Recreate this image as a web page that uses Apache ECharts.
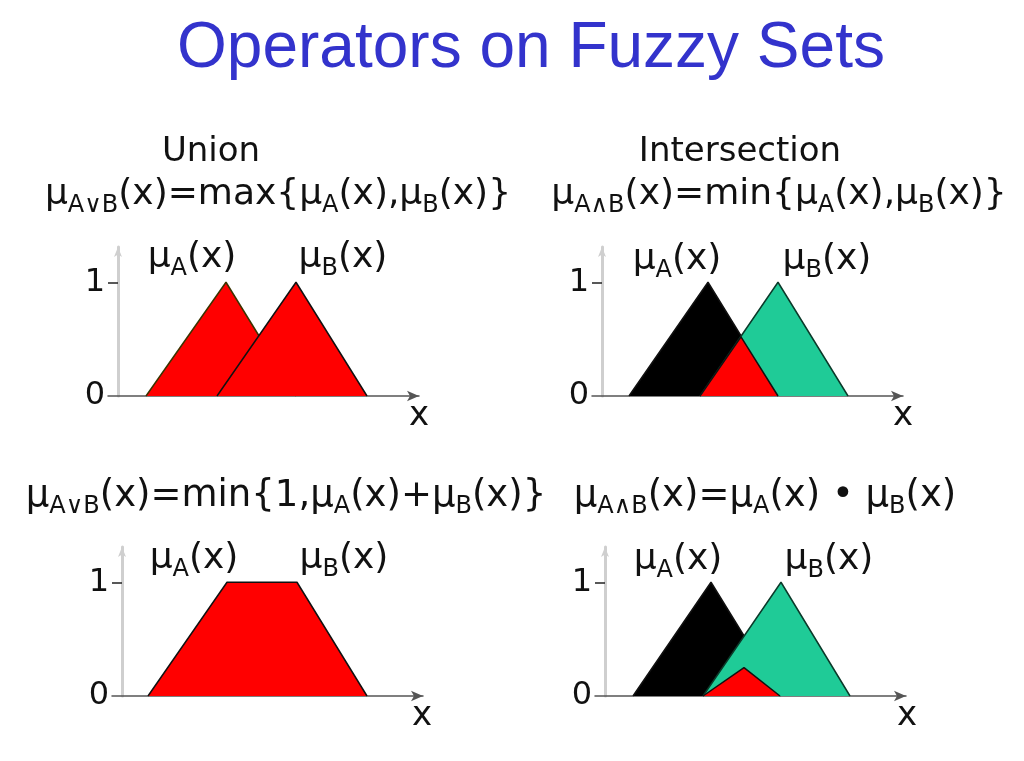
<!DOCTYPE html>
<html>
<head>
<meta charset="utf-8">
<script src="https://cdn.jsdelivr.net/npm/echarts/dist/echarts.min.js"></script>
<style>
html, body { margin: 0; padding: 0; background: #fff; }
#main { width: 1024px; height: 761px; }
</style>
</head>
<body>
<div id="main"></div>
<script>
// membership functions (x in axis units, y = degree)
var unionA = [[2.8, 0], [10.8, 1], [17.8, 0]];
var unionB = [[9.9, 0], [17.8, 1], [24.9, 0]];

var interA = [[2.7, 0], [10.6, 1], [17.6, 0]];
var interB = [[9.8, 0], [17.6, 1], [24.6, 0]];
var interMin = [[9.8, 0], [13.9, 0.52], [17.6, 0]];

var boundedSum = [[2.6, 0], [10.5, 1], [17.5, 1], [24.5, 0]];

var prodA = [[2.8, 0], [10.6, 1], [17.6, 0]];
var prodB = [[9.8, 0], [17.6, 1], [24.5, 0]];
var prodAB = [[9.8, 0], [13.9, 0.25], [17.5, 0]];

var yLabels = [0, 1];
var yTicks = [1];

var FONT = "'DejaVu Sans', sans-serif";
var RED = '#ff0000';
var GREEN = '#1fcb97';
var BLACK = '#000000';

var myChart = echarts.init(document.getElementById('main'));

// one small grid per panel, y axis sits on x = 0
var grids = [
    { left: 108, top: 247, width: 311, height: 149 },
    { left: 592, top: 247, width: 311, height: 149 },
    { left: 112, top: 547, width: 311, height: 149 },
    { left: 595, top: 547, width: 311, height: 149 }
];

var xAxes = [], yAxes = [];
for (var i = 0; i < 4; i++) {
    xAxes.push({
        gridIndex: i,
        type: 'value',
        min: -1,
        max: 30.1,
        axisLine: {
            show: true,
            symbol: ['none', 'arrow'],
            symbolSize: [8, 12],
            lineStyle: { color: '#555', width: 1.5 }
        },
        axisTick: { show: false },
        axisLabel: { show: false },
        splitLine: { show: false }
    });
    yAxes.push({
        gridIndex: i,
        type: 'value',
        min: 0,
        max: 1.31,
        interval: 1,
        axisLine: {
            show: true,
            onZero: true,
            symbol: ['none', 'arrow'],
            symbolSize: [6, 10],
            lineStyle: { color: '#cfcfcf', width: 3 }
        },
        axisTick: {
            show: true,
            customValues: yTicks,
            length: 10,
            lineStyle: { color: '#222', width: 1.5 }
        },
        axisLabel: {
            show: true,
            customValues: yLabels,
            margin: 3,
            fontSize: 32,
            fontFamily: FONT,
            color: '#111'
        },
        splitLine: { show: false }
    });
}

var zOrder = 2;
function shape(idx, data, fill, edge) {
    zOrder++;
    return {
        type: 'line',
        xAxisIndex: idx,
        yAxisIndex: idx,
        z: zOrder,
        data: data,
        symbol: 'none',
        silent: true,
        lineStyle: { color: edge || '#111', width: 1.5 },
        itemStyle: { color: fill },
        areaStyle: { color: fill, opacity: 1 }
    };
}

var series = [
    shape(0, unionA, RED, '#3b3300'),
    shape(0, unionB, RED),
    shape(1, interA, BLACK),
    shape(1, interB, GREEN, '#0b3a2a'),
    shape(1, interMin, RED),
    shape(2, boundedSum, RED),
    shape(3, prodA, BLACK),
    shape(3, prodB, GREEN, '#0b3a2a'),
    shape(3, prodAB, RED)
];

// text with subscripts written as {s|...}
function txt(text, x, y, size, sub, color, family) {
    return {
        type: 'text',
        x: x,
        y: y,
        z: 100,
        silent: true,
        style: {
            text: text,
            fontSize: size,
            fontFamily: family || FONT,
            lineHeight: Math.round(size * 1.25),
            fill: color || '#111',
            align: 'center',
            textAlign: 'center',
            verticalAlign: 'middle',
            textVerticalAlign: 'middle',
            rich: {
                s: {
                    fontSize: sub || 22,
                    fontFamily: family || FONT,
                    lineHeight: sub || 22,
                    verticalAlign: 'bottom',
                    fill: color || '#111'
                }
            }
        }
    };
}

var graphics = [
    txt('Operators on Fuzzy Sets', 531, 49, 64, 40, '#3333cc', "'Liberation Sans', Arial, sans-serif"),
    txt('Union', 211, 152, 34),
    txt('Intersection', 740, 152, 34),
    txt('μ{s|A∨B}(x)=max{μ{s|A}(x),μ{s|B}(x)}', 278, 195, 36, 24),
    txt('μ{s|A∧B}(x)=min{μ{s|A}(x),μ{s|B}(x)}', 779, 195, 36, 24),
    txt('μ{s|A∨B}(x)=min{1,μ{s|A}(x)+μ{s|B}(x)}', 286, 496, 37, 24),
    txt('μ{s|A∧B}(x)=μ{s|A}(x) • μ{s|B}(x)', 765, 496, 37, 24),

    txt('μ{s|A}(x)', 192, 258, 36, 24),
    txt('μ{s|B}(x)', 343, 258, 36, 24),
    txt('μ{s|A}(x)', 677, 260, 36, 24),
    txt('μ{s|B}(x)', 827, 260, 36, 24),
    txt('μ{s|A}(x)', 194, 559, 36, 24),
    txt('μ{s|B}(x)', 344, 559, 36, 24),
    txt('μ{s|A}(x)', 678, 560, 36, 24),
    txt('μ{s|B}(x)', 829, 560, 36, 24),

    txt('x', 419, 416, 34),
    txt('x', 903, 416, 34),
    txt('x', 422, 716, 34),
    txt('x', 907, 716, 34)
];

var option = {
    backgroundColor: '#ffffff',
    animation: false,
    grid: grids,
    xAxis: xAxes,
    yAxis: yAxes,
    series: series,
    graphic: graphics
};

myChart.setOption(option);
</script>
</body>
</html>
